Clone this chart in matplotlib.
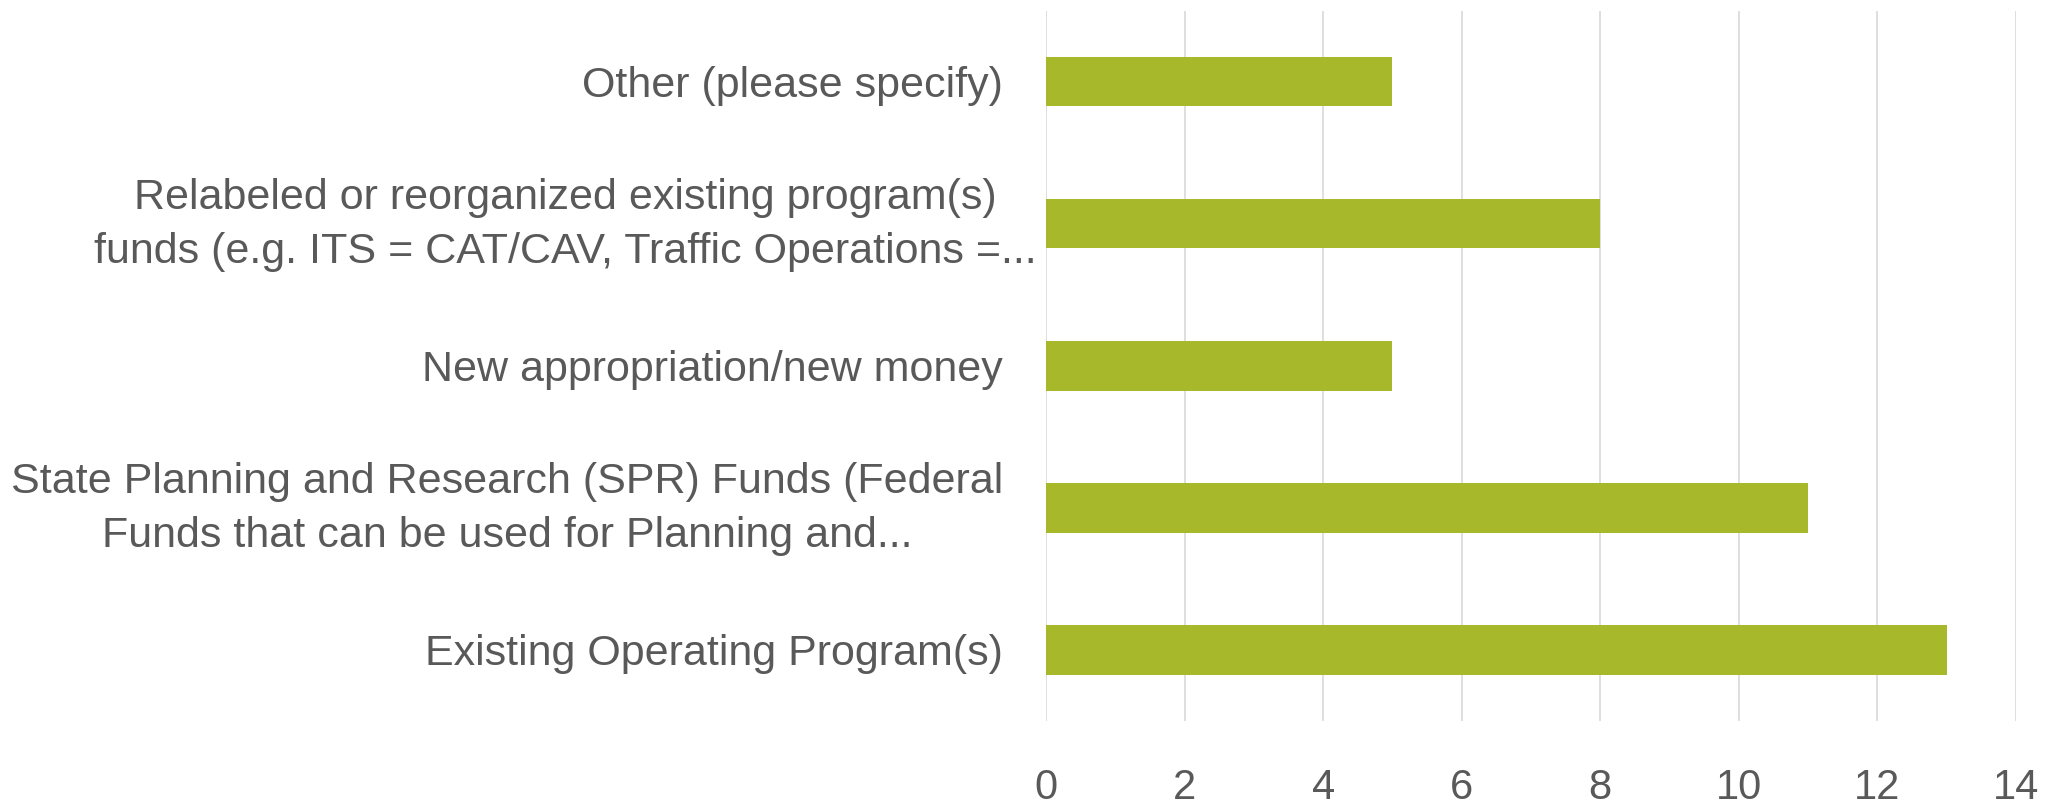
import matplotlib
matplotlib.use("Agg")
import matplotlib.pyplot as plt
import matplotlib.transforms as mtransforms

# Survey answers, bottom to top as drawn
categories = [
    "Existing Operating Program(s)",
    "State Planning and Research (SPR) Funds (Federal\nFunds that can be used for Planning and...",
    "New appropriation/new money",
    "Relabeled or reorganized existing program(s)\nfunds (e.g. ITS = CAT/CAV, Traffic Operations =...",
    "Other (please specify)",
]
counts = [13, 11, 5, 8, 5]
xticks = [0, 2, 4, 6, 8, 10, 12, 14]

plt.rcParams["font.family"] = ["Liberation Sans", "DejaVu Sans"]

fig = plt.figure(figsize=(20.56, 8.09), dpi=100)
ax = fig.add_axes([0.5088, 0.109, 0.9805 - 0.5088, 0.987 - 0.109])

ypos = list(range(len(categories)))
ax.barh(ypos, counts, height=0.35, color="#A8B82B", zorder=2)

ax.set_xlim(0, 14)
ax.set_ylim(-0.5, len(categories) - 0.5)
ax.set_xticks(xticks)
ax.set_xticklabels([str(t) for t in xticks])
ax.set_yticks(ypos)
ax.set_yticklabels(categories, multialignment="center", linespacing=1.45)

ax.grid(axis="x", color="#D9D9D9", linewidth=1.2, zorder=0)
ax.grid(axis="y", visible=False)
for s in ax.spines.values():
    s.set_visible(False)

ax.tick_params(axis="x", length=0, pad=34, labelsize=30, labelcolor="#595959")
ax.tick_params(axis="y", length=0, pad=31, labelsize=31, labelcolor="#595959")

# two-line labels sit centred on the bar; the "Relabeled" one also pokes further right
shifts = {1: (0, 7.5), 3: (24, 7.5)}
labels = ax.get_yticklabels()
for i, (dx, dy) in shifts.items():
    lab = labels[i]
    lab.set_transform(lab.get_transform() + mtransforms.ScaledTranslation(dx / 72, dy / 72, fig.dpi_scale_trans))

fig.savefig("out.png", dpi=100)
